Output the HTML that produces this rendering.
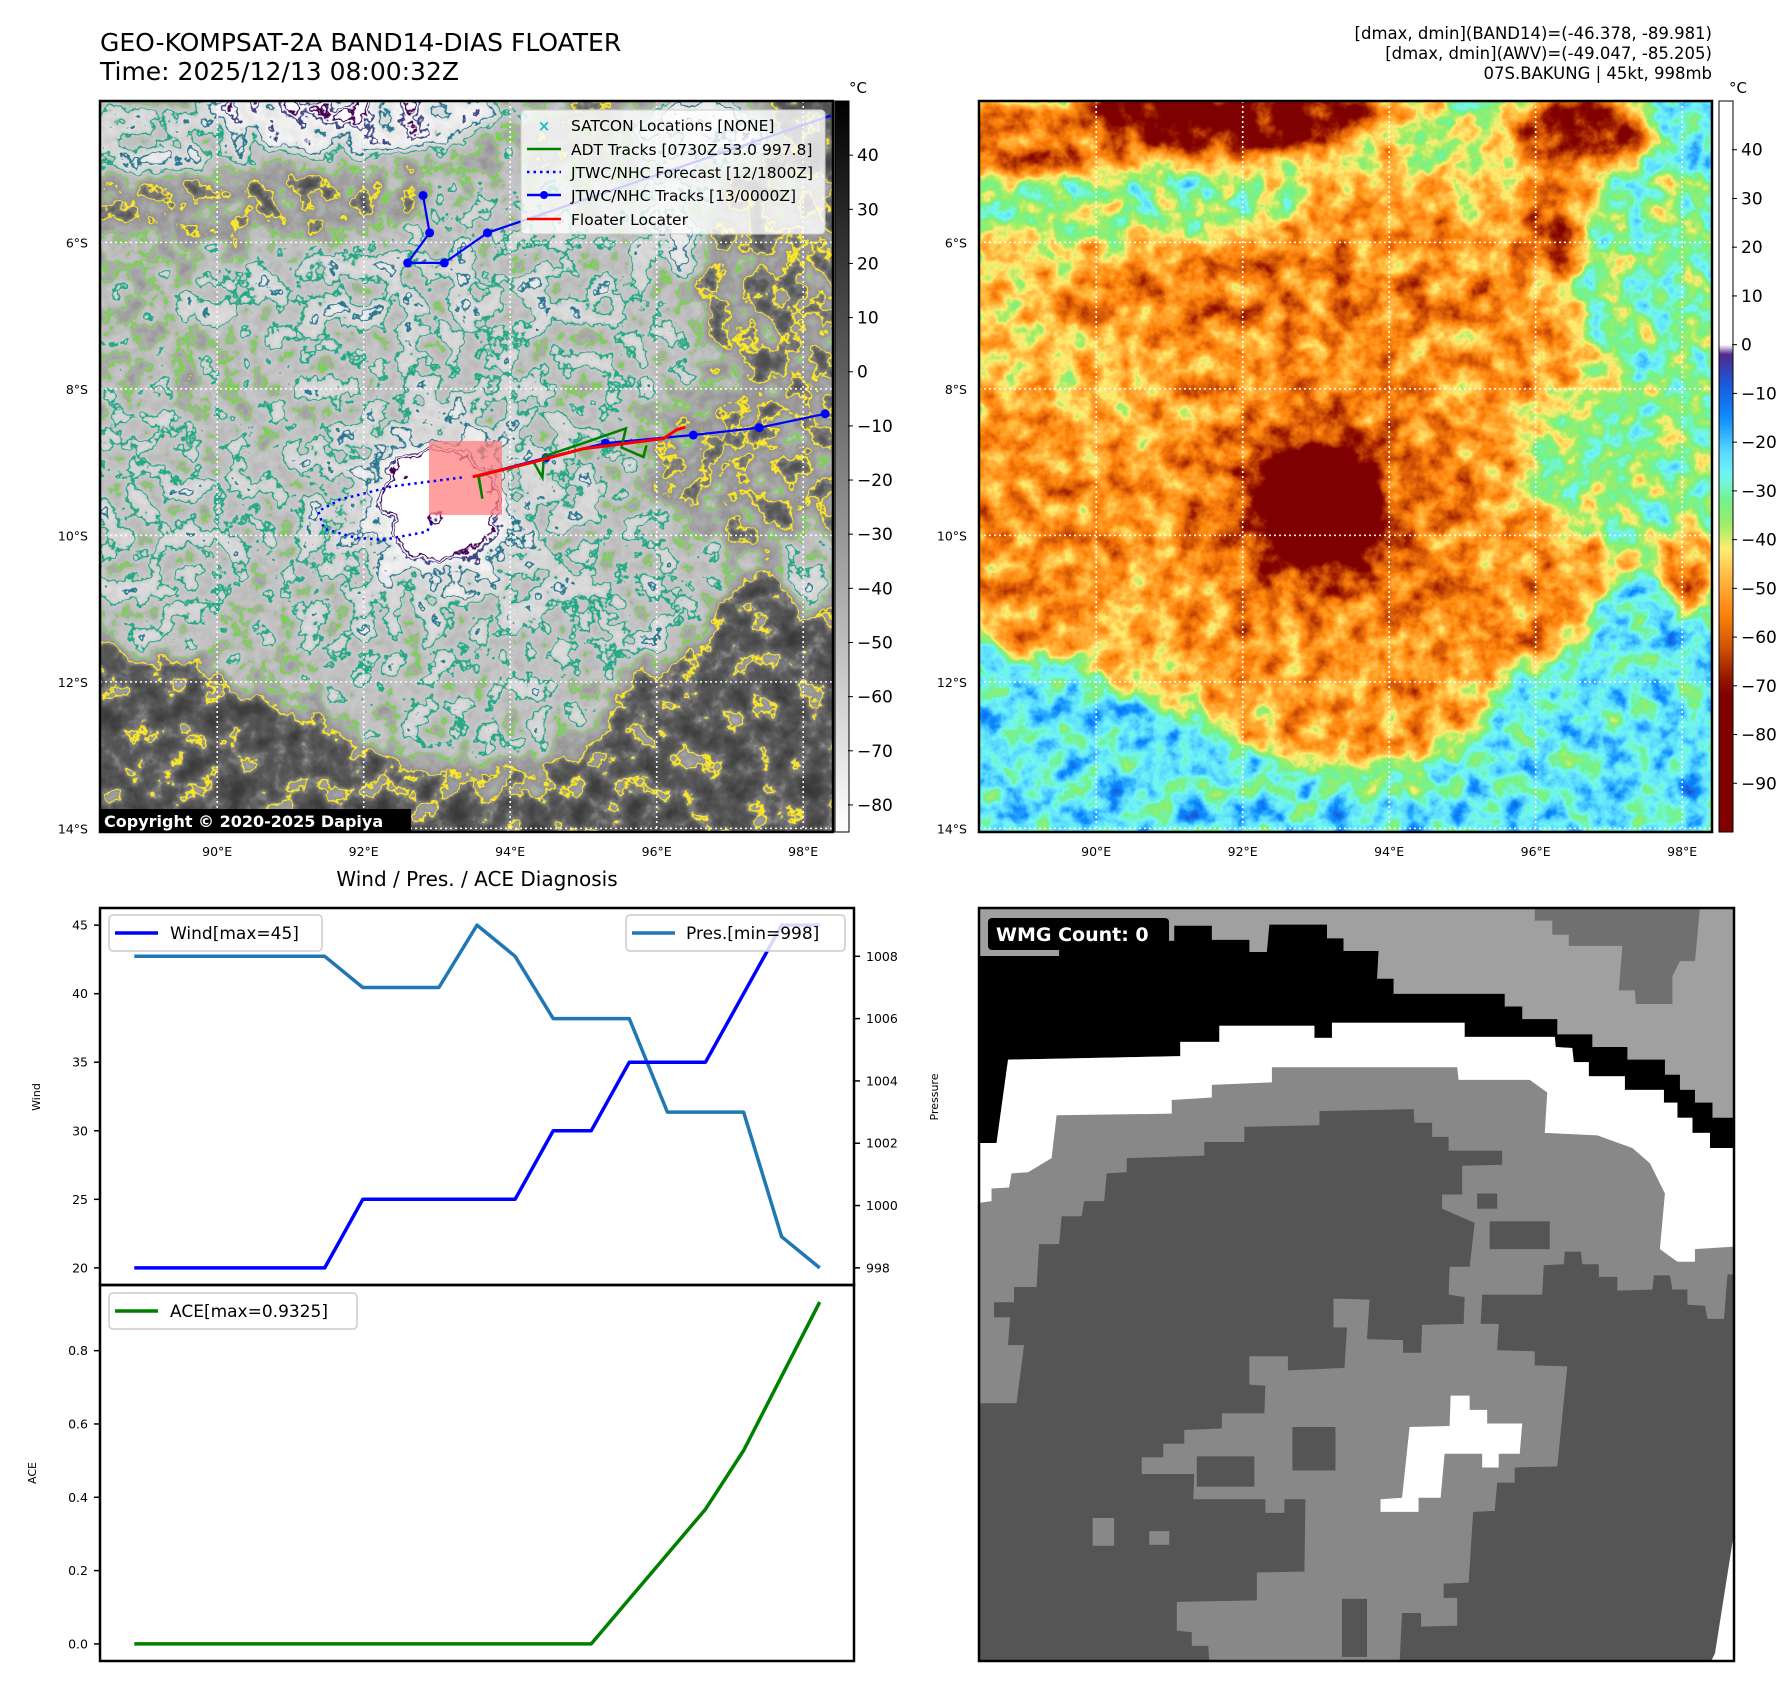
<!DOCTYPE html>
<html><head><meta charset="utf-8">
<style>
html,body{margin:0;padding:0;background:#fff;}
svg text{font-family:"DejaVu Sans","Liberation Sans",sans-serif;}
</style></head>
<body>
<svg id="root" width="1792" height="1690" viewBox="0 0 1792 1690" xmlns="http://www.w3.org/2000/svg">
<defs>
  <g id="field">
    <rect x="-120" y="-120" width="973" height="971" fill="rgb(69,69,69)"/>
    <ellipse cx="330" cy="300" rx="380" ry="330" fill="rgb(122,122,122)"/>
    <ellipse cx="380" cy="380" rx="250" ry="290" fill="rgb(138,138,138)"/>
    <ellipse cx="60" cy="430" rx="90" ry="130" fill="rgb(142,142,142)"/>
    <ellipse cx="130" cy="100" rx="200" ry="35" fill="rgb(92,92,92)"/>
    <ellipse cx="680" cy="180" rx="80" ry="130" fill="rgb(87,87,87)"/>
    <ellipse cx="490" cy="30" rx="60" ry="40" fill="rgb(102,102,102)"/>
    <ellipse cx="240" cy="10" rx="150" ry="42" fill="rgb(200,200,200)"/>
    <ellipse cx="40" cy="40" rx="130" ry="35" fill="rgb(160,160,160)"/>
    <ellipse cx="600" cy="30" rx="70" ry="40" fill="rgb(184,184,184)"/>
    <ellipse cx="570" cy="130" rx="30" ry="40" fill="rgb(180,180,180)"/>
    <ellipse cx="300" cy="195" rx="230" ry="45" fill="rgb(150,150,150)"/>
    <ellipse cx="650" cy="360" rx="110" ry="80" fill="rgb(92,92,92)"/>
    <ellipse cx="700" cy="660" rx="200" ry="180" fill="rgb(66,66,66)"/>
    <ellipse cx="520" cy="520" rx="90" ry="50" fill="rgb(145,145,145)"/>
    <ellipse cx="60" cy="710" rx="220" ry="130" fill="rgb(66,66,66)"/>
    <ellipse cx="380" cy="770" rx="280" ry="60" fill="rgb(66,66,66)"/>
    <ellipse cx="710" cy="470" rx="30" ry="40" fill="rgb(150,150,150)"/>
    <ellipse cx="345" cy="410" rx="150" ry="140" fill="rgb(148,148,148)"/>
    <ellipse cx="342" cy="405" rx="100" ry="95" fill="rgb(165,165,165)"/>
    <ellipse cx="341" cy="404" rx="62" ry="58" fill="rgb(250,250,250)"/>
  </g>
  <filter id="fR" x="0" y="0" width="1" height="1" color-interpolation-filters="sRGB">
    <feGaussianBlur in="SourceGraphic" stdDeviation="11" result="b"/>
    <feTurbulence type="fractalNoise" baseFrequency="0.04" numOctaves="4" seed="5" result="t"/>
    <feColorMatrix in="t" type="matrix" values="1 0 0 0 0  1 0 0 0 0  1 0 0 0 0  0 0 0 0 1" result="n"/>
    <feComposite in="b" in2="n" operator="arithmetic" k1="0" k2="1" k3="0.42" k4="-0.21" result="c"/>
    <feComponentTransfer in="c">
      <feFuncR id="rR" type="table" tableValues="0 1"/>
      <feFuncG id="rG" type="table" tableValues="0 1"/>
      <feFuncB id="rB" type="table" tableValues="0 1"/>
    </feComponentTransfer>
  </filter>
  <filter id="fL" x="0" y="0" width="1" height="1" color-interpolation-filters="sRGB">
    <feGaussianBlur in="SourceGraphic" stdDeviation="11" result="b"/>
    <feTurbulence type="fractalNoise" baseFrequency="0.04" numOctaves="4" seed="5" result="t"/>
    <feColorMatrix in="t" type="matrix" values="1 0 0 0 0  1 0 0 0 0  1 0 0 0 0  0 0 0 0 1" result="n"/>
    <feComposite in="b" in2="n" operator="arithmetic" k1="0" k2="1" k3="0.42" k4="-0.21" result="c"/>
    <feComponentTransfer in="c">
      <feFuncR id="lR" type="table" tableValues="0 1"/>
      <feFuncG id="lG" type="table" tableValues="0 1"/>
      <feFuncB id="lB" type="table" tableValues="0 1"/>
    </feComponentTransfer>
  </filter>
  <linearGradient id="gL" x1="0" y1="1" x2="0" y2="0">
    <stop offset="0" stop-color="#ffffff"/><stop offset="1" stop-color="#000000"/>
  </linearGradient>
  <linearGradient id="gR" x1="0" y1="1" x2="0" y2="0"></linearGradient>
</defs>

<text x="100" y="51" font-size="25" fill="#000">GEO-KOMPSAT-2A BAND14-DIAS FLOATER</text>
<text x="100" y="80" font-size="25" fill="#000">Time: 2025/12/13 08:00:32Z</text>
<text x="1712" y="39" font-size="16.5" text-anchor="end">[dmax, dmin](BAND14)=(-46.378, -89.981)</text>
<text x="1712" y="59" font-size="16.5" text-anchor="end">[dmax, dmin](AWV)=(-49.047, -85.205)</text>
<text x="1712" y="79" font-size="16.5" text-anchor="end">07S.BAKUNG | 45kt, 998mb</text>

<g id="leftMap">
  <svg x="100" y="101" width="733" height="731" viewBox="0 0 733 731" overflow="hidden">
    <g filter="url(#fL)"><use href="#field"/></g>
  </svg>
  <g id="gridL"></g>
  <rect x="429" y="441" width="73" height="74" fill="#ff7f7f" fill-opacity="0.75"/>
  <g id="tracks"></g>
  <rect x="100" y="101" width="733" height="731" fill="none" stroke="#000" stroke-width="2.5"/>
  <g>
    <rect x="521" y="110" width="304" height="124" rx="4" fill="#fff" fill-opacity="0.8" stroke="#ccc"/>
    <text x="544" y="131" font-size="15" fill="#18c0c0" text-anchor="middle" font-weight="bold">×</text>
    <text x="571" y="131" font-size="15.5">SATCON Locations [NONE]</text>
    <line x1="527" y1="149" x2="561" y2="149" stroke="#008000" stroke-width="2.5"/>
    <text x="571" y="155" font-size="15.5">ADT Tracks [0730Z 53.0 997.8]</text>
    <line x1="527" y1="172" x2="561" y2="172" stroke="#0000ff" stroke-width="2.5" stroke-dasharray="2.5 4"/>
    <text x="571" y="178" font-size="15.5">JTWC/NHC Forecast [12/1800Z]</text>
    <line x1="527" y1="195" x2="561" y2="195" stroke="#0000ff" stroke-width="2.5"/>
    <circle cx="544" cy="195" r="4" fill="#0000ff"/>
    <text x="571" y="201" font-size="15.5">JTWC/NHC Tracks [13/0000Z]</text>
    <line x1="527" y1="219" x2="561" y2="219" stroke="#ff0000" stroke-width="2.5"/>
    <text x="571" y="225" font-size="15.5">Floater Locater</text>
  </g>
  <rect x="100" y="809" width="311" height="23" fill="#000"/>
  <text x="104" y="827" font-size="16" font-weight="bold" fill="#fff">Copyright © 2020-2025 Dapiya</text>
</g>
<rect x="835" y="101" width="14" height="731" fill="url(#gL)" stroke="#000" stroke-width="1"/>
<text x="849" y="93" font-size="15">°C</text>
<g id="cbLticks"></g>

<g>
  <svg x="979" y="101" width="733" height="731" viewBox="0 0 733 731" overflow="hidden">
    <g filter="url(#fR)"><use href="#field"/></g>
  </svg>
  <g id="gridR"></g>
  <rect x="979" y="101" width="733" height="731" fill="none" stroke="#000" stroke-width="2.5"/>
</g>
<rect x="1719" y="101" width="14" height="731" fill="url(#gR)" stroke="#000" stroke-width="1"/>
<text x="1729" y="93" font-size="15">°C</text>
<g id="cbRticks"></g>

<text x="477" y="886" font-size="20" text-anchor="middle">Wind / Pres. / ACE Diagnosis</text>
<g id="chart"></g>
<rect x="100" y="908" width="754" height="377" fill="none" stroke="#000" stroke-width="2.5"/>
<rect x="100" y="1285" width="754" height="376" fill="none" stroke="#000" stroke-width="2.5"/>
<text transform="translate(40,1097) rotate(-90)" font-size="11" text-anchor="middle">Wind</text>
<text transform="translate(938,1097) rotate(-90)" font-size="11" text-anchor="middle">Pressure</text>
<text transform="translate(36,1473) rotate(-90)" font-size="11" text-anchor="middle">ACE</text>
<g>
  <rect x="109" y="915" width="213" height="36" rx="4" fill="#fff" fill-opacity="0.85" stroke="#ccc" stroke-width="1.5"/>
  <line x1="115" y1="933" x2="158" y2="933" stroke="#0000ff" stroke-width="3.5"/>
  <text x="170" y="939" font-size="17">Wind[max=45]</text>
</g>
<g>
  <rect x="626" y="915" width="219" height="36" rx="4" fill="#fff" fill-opacity="0.85" stroke="#ccc" stroke-width="1.5"/>
  <line x1="632" y1="933" x2="675" y2="933" stroke="#1f77b4" stroke-width="3.5"/>
  <text x="686" y="939" font-size="17">Pres.[min=998]</text>
</g>
<g>
  <rect x="109" y="1293" width="248" height="36" rx="4" fill="#fff" fill-opacity="0.85" stroke="#ccc" stroke-width="1.5"/>
  <line x1="115" y1="1311" x2="158" y2="1311" stroke="#008000" stroke-width="3.5"/>
  <text x="170" y="1317" font-size="17">ACE[max=0.9325]</text>
</g>

<g>
  <svg x="979" y="908" width="755" height="753" viewBox="10 25 1508 1490" preserveAspectRatio="none" overflow="hidden">
    <rect x="0" y="0" width="1530" height="1530" fill="#888888"/>
    <polygon id="wTop" fill="#a0a0a0"/>
    <polygon id="wBlack" fill="#000"/>
    <polygon id="wWhite" fill="#fff"/>
    <polygon fill="#707070" points="1120,25 1450,25 1440,130 1410,130 1395,160 1395,215 1322,215 1320,188 1288,188 1295,100 1188,100 1188,78 1155,78 1155,50 1120,50"/>
    <polygon fill="#555555" points="10,1005 85,1005 100,890 68,890 72,835 40,835 40,805 80,805 80,775 125,775 130,690 170,690 175,635 215,635 220,605 260,605 265,550 305,548 305,520 460,515 460,488 540,488 540,458 690,455 690,427 878,423 880,450 915,450 915,478 948,478 948,505 1055,505 1055,533 975,535 975,592 935,592 935,620 1000,648 990,735 950,735 948,790 980,795 978,848 895,850 893,905 857,905 857,880 785,878 790,800 718,798 718,855 745,855 740,935 627,940 627,912 550,912 550,968 582,970 580,1025 495,1025 495,1055 420,1058 420,1085 378,1085 378,1112 335,1112 335,1145 440,1145 438,1195 582,1195 582,1222 620,1222 620,1195 662,1195 660,1338 565,1340 565,1395 405,1398 405,1455 435,1458 435,1485 468,1485 470,1520 10,1520"/>
    <polygon fill="#555555" points="1520,750 1505,750 1498,838 1465,838 1460,812 1425,810 1425,780 1395,780 1390,752 1358,752 1355,780 1285,782 1285,755 1248,755 1248,730 1215,730 1212,705 1180,705 1178,730 1138,732 1135,790 1015,790 1012,848 1048,848 1045,900 1120,902 1120,930 1185,932 1165,1130 1080,1132 1080,1162 1045,1162 1040,1218 997,1220 988,1360 938,1362 938,1390 965,1390 965,1445 893,1447 893,1420 855,1420 850,1520 1520,1520"/>
    <rect x="1005" y="590" width="40" height="30" fill="#555"/>
    <rect x="1030" y="645" width="120" height="55" fill="#555"/>
    <rect x="636" y="1052" width="86" height="86" fill="#555"/>
    <rect x="445" y="1110" width="115" height="60" fill="#555"/>
    <rect x="735" y="1392" width="50" height="115" fill="#555"/>
    <rect x="237" y="1232" width="43" height="55" fill="#888"/>
    <rect x="350" y="1258" width="40" height="27" fill="#888"/>
    <polygon fill="#fff" points="952,990 990,990 990,1018 1025,1018 1025,1045 1095,1045 1090,1105 1048,1105 1048,1132 1015,1132 1015,1105 940,1105 932,1192 888,1192 888,1220 812,1220 812,1195 855,1192 870,1052 950,1050"/>
    <polygon fill="#fff" points="1480,1500 1515,1280 1520,1280 1520,1520 1470,1520"/>
  </svg>
  <rect x="979" y="908" width="755" height="753" fill="none" stroke="#000" stroke-width="2.5"/>
  <rect x="988" y="918" width="181" height="32" rx="4" fill="#000"/>
  <text x="996" y="941" font-size="19" font-weight="bold" fill="#fff">WMG Count: 0</text>
</g>
</svg>

<script>
// ---------------- chart data ----------------
const timeIndex = [0,1,2,3,4,5,6,7,8,9,10,11,12,13,14,15,16,17,18];
const windKt = [20,20,20,20,20,20,25,25,25,25,25,30,30,35,35,35,40,45,45];
const pressMb = [1008,1008,1008,1008,1008,1008,1007,1007,1007,1009,1008,1006,1006,1006,1003,1003,1003,999,998];
const aceVals = [0,0,0,0,0,0,0,0,0,0,0,0,0,0.1225,0.245,0.3675,0.5275,0.73,0.9325];
const windTicks = [20,25,30,35,40,45];
const pressTicks = [998,1000,1002,1004,1006,1008];
const aceTicks = [0.0,0.2,0.4,0.6,0.8];

// ---------------- map data (lon E, lat S) ----------------
const trackEastLon = [98.30,97.40,96.50,95.30,94.49,93.49];
const trackEastLat = [8.34,8.53,8.63,8.74,8.94,9.20];
const trackNorthLon = [92.81,92.90,92.60,93.10,93.69];
const trackNorthLat = [5.36,5.87,6.28,6.28,5.87];
const trackTailLon = [93.69,98.38];
const trackTailLat = [5.87,4.27];
const fcstLon = [93.34,92.39,91.68,91.38,91.46,91.88,92.27,92.86,92.94];
const fcstLat = [9.21,9.33,9.51,9.67,9.91,10.03,10.06,9.95,9.82];
const floaterLon = [93.49,94.32,94.99,96.09,96.27,96.39];
const floaterLat = [9.20,9.00,8.82,8.68,8.56,8.52];
const adtLon = [93.56,93.62,93.57,94.32,94.44,94.46,94.91,95.58,95.52,95.82,95.86];
const adtLat = [9.17,9.50,9.19,9.00,9.21,8.92,8.77,8.54,8.80,8.93,8.77];
const lonTicks = [90,92,94,96,98];
const latTicks = [6,8,10,12,14];
const cbLTicks = [40,30,20,10,0,-10,-20,-30,-40,-50,-60,-70,-80];
const cbRTicks = [40,30,20,10,0,-10,-20,-30,-40,-50,-60,-70,-80,-90];

const NS = 'http://www.w3.org/2000/svg';
function mk(tag, attrs, parent){const el=document.createElementNS(NS,tag);for(const k in attrs)el.setAttribute(k,attrs[k]);parent.appendChild(el);return el;}
function fmtNeg(v){return v<0?'\u2212'+Math.abs(v):String(v);}

const rStops=[[0,.40,.10,.45],[-8,.10,.35,.85],[-15,.05,.55,1],[-22,.35,.85,1],[-27,.45,.97,.95],[-32,.45,.95,.55],[-37,.62,.93,.40],[-42,1,.93,.45],[-48,1,.72,.25],[-55,1,.52,.05],[-62,.82,.33,.02],[-68,.6,.1,0],[-72,.5,0,0],[-100,.5,0,0]];
function interp(stops,T){for(let i=0;i<stops.length-1;i++){const a=stops[i],b=stops[i+1];if(T<=a[0]&&T>=b[0]){const f=(a[0]-T)/(a[0]-b[0]);return [1,2,3].map(j=>a[j]+(b[j]-a[j])*f);}}return T>0?stops[0].slice(1):stops[stops.length-1].slice(1);}
const gStops=[[0,.18],[-15,.25],[-25,.36],[-31,.55],[-45,.72],[-60,.85],[-76,.97],[-85,1],[-100,1]];
function gray(T){for(let i=0;i<gStops.length-1;i++){const a=gStops[i],b=gStops[i+1];if(T<=a[0]&&T>=b[0]){return a[1]+(b[1]-a[1])*(a[0]-T)/(a[0]-b[0]);}}return T>0?.18:1;}
const contourCols={31:[.99,.91,.15],32:[.99,.91,.15],43:[.48,.82,.32],44:[.48,.82,.32],54:[.13,.66,.52],55:[.13,.66,.52],64:[.16,.47,.56],65:[.16,.47,.56],76:[.25,.27,.53],77:[.25,.27,.53],81:[.27,0,.33],82:[.27,0,.33]};
let rr=[],rg=[],rb=[],lr=[],lgg=[],lbb=[];
for(let k=0;k<=95;k++){const T=-k;const c=interp(rStops,T);rr.push(c[0].toFixed(3));rg.push(c[1].toFixed(3));rb.push(c[2].toFixed(3));
 if(contourCols[k]){const cc=contourCols[k];lr.push(cc[0]);lgg.push(cc[1]);lbb.push(cc[2]);}else{const g=gray(T).toFixed(3);lr.push(g);lgg.push(g);lbb.push(g);}}
document.getElementById('rR').setAttribute('tableValues',rr.join(' '));
document.getElementById('rG').setAttribute('tableValues',rg.join(' '));
document.getElementById('rB').setAttribute('tableValues',rb.join(' '));
document.getElementById('lR').setAttribute('tableValues',lr.join(' '));
document.getElementById('lG').setAttribute('tableValues',lgg.join(' '));
document.getElementById('lB').setAttribute('tableValues',lbb.join(' '));
const gradR=document.getElementById('gR');
for(let T=-100;T<=50;T+=2){const off=(T+100)/150;let col;if(T>=0){col='rgb(255,255,255)';}else{const c=interp(rStops,T);col='rgb('+c.map(v=>Math.round(v*255)).join(',')+')';}
 mk('stop',{offset:off,'stop-color':col},gradR);}

const mapTop=101,mapH=731,mapW=733;
function xLon(lon,left){return left+(lon-88.40)*73.25;}
function yLat(lat){return mapTop+(lat-4.07)*73.25;}
[['gridL',100],['gridR',979]].forEach(([id,left])=>{
  const g=document.getElementById(id);
  lonTicks.forEach(lon=>{const x=xLon(lon,left);
    const l=mk('line',{x1:x,y1:mapTop,x2:x,y2:mapTop+mapH,stroke:'#fff','stroke-width':1.6,'stroke-dasharray':'2 3'},g);
    
    
    const t=mk('text',{x:x,y:856,'font-size':12.5,'text-anchor':'middle'},g);t.textContent=lon+'°E';
    
    });
  latTicks.forEach(lat=>{const y=yLat(lat);
    const l=mk('line',{x1:left,y1:y,x2:left+mapW,y2:y,stroke:'#fff','stroke-width':1.6,'stroke-dasharray':'2 3'},g);
    
    
    const t=mk('text',{x:left-12,y:y+5,'font-size':12.5,'text-anchor':'end'},g);t.textContent=lat+'°S';
    
    });
});
function cbTicks(id,ticks,x,lo,hi){const g=document.getElementById(id);
  ticks.forEach(v=>{const y=mapTop+mapH-(v-lo)/(hi-lo)*mapH;
    mk('line',{x1:x-1,y1:y,x2:x+4,y2:y,stroke:'#000','stroke-width':1},g);
    const t=mk('text',{x:x+8,y:y+6,'font-size':17},g);t.textContent=fmtNeg(v);
    
    });}
cbTicks('cbLticks',cbLTicks,849,-85,50);
cbTicks('cbRticks',cbRTicks,1733,-100,50);

const tg=document.getElementById('tracks');
function pts(lons,lats){return lons.map((l,i)=>xLon(l,100).toFixed(1)+','+yLat(lats[i]).toFixed(1)).join(' ');}
let e;
e=mk('polyline',{points:pts(trackTailLon,trackTailLat),fill:'none',stroke:'#0000ff','stroke-width':2.2},tg);


e=mk('polyline',{points:pts(trackNorthLon,trackNorthLat),fill:'none',stroke:'#0000ff','stroke-width':2.2},tg);


e=mk('polyline',{points:pts(trackEastLon,trackEastLat),fill:'none',stroke:'#0000ff','stroke-width':2.2},tg);


trackNorthLon.concat(trackEastLon.slice(0,5)).forEach((lon,i)=>{const lat=i<5?trackNorthLat[i]:trackEastLat[i-5];
  const c=mk('circle',{cx:xLon(lon,100),cy:yLat(lat),r:4.5,fill:'#0000ff'},tg);
  
  });
e=mk('polyline',{points:pts(fcstLon,fcstLat),fill:'none',stroke:'#0000ff','stroke-width':2.5,'stroke-dasharray':'2.5 4'},tg);


e=mk('polyline',{points:pts(adtLon,adtLat),fill:'none',stroke:'#008000','stroke-width':2.5},tg);


e=mk('polyline',{points:pts(floaterLon,floaterLat),fill:'none',stroke:'#ff0000','stroke-width':3},tg);



const ch=document.getElementById('chart');
const PL=100,PR=854,T1=908,B1=1285,T2=1285,B2=1661;
function xs(i){return PL+(i+0.9)/19.8*(PR-PL);}
function yWind(v){return B1-(v-18.75)/27.5*(B1-T1);}
function yPres(v){return B1-(v-997.45)/12.1*(B1-T1);}
function yAce(v){return B2-(v+0.0466)/1.0257*(B2-T2);}
windTicks.forEach(v=>{const y=yWind(v);mk('line',{x1:PL-6,y1:y,x2:PL,y2:y,stroke:'#000','stroke-width':1.5},ch);
  const t=mk('text',{x:PL-12,y:y+4.5,'font-size':12.5,'text-anchor':'end'},ch);t.textContent=v;
  
  });
pressTicks.forEach(v=>{const y=yPres(v);mk('line',{x1:PR,y1:y,x2:PR+6,y2:y,stroke:'#000','stroke-width':1.5},ch);
  const t=mk('text',{x:PR+12,y:y+4.5,'font-size':12.5},ch);t.textContent=v;
  
  });
aceTicks.forEach(v=>{const y=yAce(v);mk('line',{x1:PL-6,y1:y,x2:PL,y2:y,stroke:'#000','stroke-width':1.5},ch);
  const t=mk('text',{x:PL-12,y:y+4.5,'font-size':12.5,'text-anchor':'end'},ch);t.textContent=v.toFixed(1);
  
  });
e=mk('polyline',{points:timeIndex.map(i=>xs(i).toFixed(1)+','+yPres(pressMb[i]).toFixed(1)).join(' '),fill:'none',stroke:'#1f77b4','stroke-width':3.5,'stroke-linejoin':'round'},ch);


e=mk('polyline',{points:timeIndex.map(i=>xs(i).toFixed(1)+','+yWind(windKt[i]).toFixed(1)).join(' '),fill:'none',stroke:'#0000ff','stroke-width':3.5,'stroke-linejoin':'round'},ch);


e=mk('polyline',{points:timeIndex.map(i=>xs(i).toFixed(1)+','+yAce(aceVals[i]).toFixed(1)).join(' '),fill:'none',stroke:'#008000','stroke-width':3.5,'stroke-linejoin':'round'},ch);



const U=[[10,120],[170,120],[170,90],[400,90],[400,60],[475,60],[475,88],[550,88],[550,112],[585,112],[590,58],[705,58],[705,85],[738,85],[738,110],[808,110],[805,165],[838,165],[838,195],[1060,195],[1060,220],[1095,220],[1095,245],[1165,245],[1165,275],[1235,275],[1235,300],[1305,300],[1305,325],[1380,325],[1380,355],[1410,355],[1410,385],[1440,385],[1440,410],[1475,410],[1475,440],[1520,440]];
const W=[[1520,500],[1470,500],[1470,470],[1435,470],[1435,440],[1405,440],[1405,410],[1378,410],[1378,385],[1300,385],[1300,358],[1228,358],[1228,330],[1198,330],[1195,302],[1162,300],[1160,280],[980,280],[980,252],[715,252],[715,282],[680,282],[680,258],[490,258],[490,290],[412,290],[412,318],[68,325],[45,490],[0,490]];
const Bw=[[0,610],[35,605],[35,580],[70,578],[75,550],[108,548],[155,520],[165,435],[395,432],[395,405],[475,400],[475,375],[595,370],[595,340],[965,340],[968,365],[1110,365],[1145,390],[1140,470],[1245,475],[1315,500],[1350,530],[1380,590],[1370,700],[1405,725],[1440,725],[1440,700],[1520,695]];
const ps=a=>a.map(p=>p.join(',')).join(' ');
document.getElementById('wTop').setAttribute('points',ps([[0,0],[1530,0]].concat(U.slice().reverse()).concat([[0,120]])));
document.getElementById('wBlack').setAttribute('points',ps([[0,120]].concat(U).concat(W)));
document.getElementById('wWhite').setAttribute('points',ps(W.concat(Bw)));
</script>
</body></html>
